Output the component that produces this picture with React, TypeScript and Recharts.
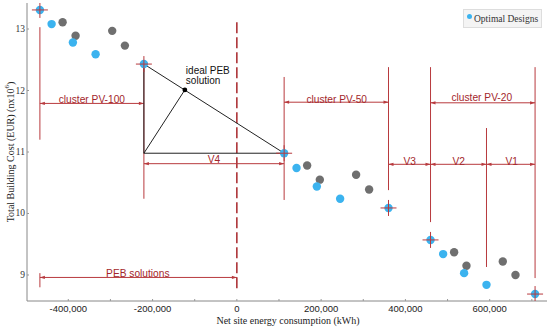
import React from 'react';
import { ScatterChart, Scatter, XAxis, YAxis, ReferenceLine, Legend } from 'recharts';

// optimal designs (blue), boundary designs get a red cross
const optimalX = [-467400, -439600, -389100, -335200, -220600, 112200, 141600, 189800, 245100, 359900, 459600, 489500, 539300, 592400, 707700];
const optimalY = [13.31, 13.08, 12.78, 12.59, 12.43, 10.98, 10.74, 10.44, 10.24, 10.09, 9.57, 9.34, 9.03, 8.84, 8.69];
const optimalEdge = [true, false, false, false, true, true, false, false, false, true, true, false, false, false, true];

// other designs (grey)
const otherX = [-413500, -382700, -295800, -265700, 166800, 196900, 283000, 313900, 515600, 544900, 631100, 661200];
const otherY = [13.11, 12.89, 12.97, 12.73, 10.78, 10.55, 10.63, 10.39, 9.37, 9.15, 9.22, 9.0];

const xTicks = [-400000, -300000, -200000, -100000, 0, 100000, 200000, 300000, 400000, 500000, 600000, 700000];
const yTicks = [9, 10, 11, 12, 13];

// red vertical guides at cluster limits
const guideX = [-467400, -220600, 112200, 359900, 459600, 592400, 707700];
const guideTop = [13.03, 12.43, 12.22, 12.38, 12.38, 11.39, 12.38];
const guideBottom = [11.2, 10.24, 10.22, 10.38, 9.86, 9.13, 8.95];

// arrows with their labels
const spanNames = ['cluster PV-100', 'V4', 'cluster PV-50', 'V3', 'V2', 'V1', 'cluster PV-20', 'PEB solutions'];
const spanFrom = [-467400, -220600, 112200, 359900, 459600, 592400, 459600, -467400];
const spanTo = [-220600, 112200, 359900, 459600, 592400, 707700, 707700, 0];
const spanY = [11.79, 10.81, 11.81, 10.8, 10.8, 10.8, 11.8, 8.96];
const spanLabelX = [-344000, -54500, 237000, 410400, 526700, 652400, 581300, -235000];
const spanLabelY = [11.85, 10.87, 11.86, 10.85, 10.85, 10.85, 11.88, 9.02];

// PEB limit and small tick of the PEB arrow
const pebLimit = { x: 0, top: 13.11, bottom: 8.76 };
const pebStart = { x: -467400, top: 9.03, bottom: 8.8 };

// ideal PEB construction
const idealPoint = { x: -123400, y: 12.01 };
const idealText = ['ideal PEB', 'solution'];
const idealTextX = -121000;
const idealTextY = [12.32, 12.16];
const triA = { x: -220600, y: 12.43 };
const triB = { x: -220600, y: 10.98 };
const triC = { x: 112200, y: 10.98 };

const BLUE = '#3bb3ef';
const GREY = '#6f6f6f';
const RED = '#b83a3e';
const RED_TEXT = '#a3262b';

const optimalData = optimalX.map((x, i) => ({ x, y: optimalY[i], edge: optimalEdge[i] }));
const otherData = otherX.map((x, i) => ({ x, y: otherY[i] }));
const spanLabelData = spanNames.map((name, i) => ({ x: spanLabelX[i], y: spanLabelY[i], name }));
const idealTextData = idealText.map((name, i) => ({ x: idealTextX, y: idealTextY[i], name }));

const ArrowLine = (p: any) => {
  const { x1, y1, x2, y2 } = p;
  const dx = x2 - x1;
  const dy = y2 - y1;
  const len = Math.hypot(dx, dy) || 1;
  const ux = dx / len;
  const uy = dy / len;
  const L = 5;
  const W = 1.6;
  const head = (tx: number, ty: number, sx: number, sy: number) =>
    `${tx},${ty} ${tx - sx * L - sy * W},${ty - sy * L + sx * W} ${tx - sx * L + sy * W},${ty - sy * L - sx * W}`;
  return (
    <g>
      <line x1={x1} y1={y1} x2={x2} y2={y2} stroke={RED} strokeWidth={1} />
      <polygon points={head(x2, y2, ux, uy)} fill={RED} />
      <polygon points={head(x1, y1, -ux, -uy)} fill={RED} />
    </g>
  );
};

const OptimalDot = (p: any) => {
  const { cx, cy, payload } = p;
  return (
    <g>
      <circle cx={cx} cy={cy} r={4.2} fill={BLUE} />
      {payload.edge && (
        <path d={`M${cx - 8},${cy}H${cx + 8}M${cx},${cy - 8}V${cy + 8}`} stroke={RED} strokeWidth={1} />
      )}
    </g>
  );
};

const OtherDot = (p: any) => <circle cx={p.cx} cy={p.cy} r={4.2} fill={GREY} />;

const SpanLabel = (p: any) => (
  <text x={p.cx} y={p.cy} textAnchor="middle" dominantBaseline="central" fill={RED_TEXT}
    fontSize={10.2} fontFamily="Liberation Sans, Arial, sans-serif">{p.payload.name}</text>
);

const IdealLabel = (p: any) => (
  <text x={p.cx} y={p.cy} textAnchor="start" dominantBaseline="central" fill="#111"
    fontSize={10} fontFamily="Liberation Sans, Arial, sans-serif">{p.payload.name}</text>
);

const IdealDot = (p: any) => <circle cx={p.cx} cy={p.cy} r={2.4} fill="#000" />;

const XTick = (p: any) => {
  const { x, y, payload } = p;
  const major = Math.abs(payload.value) % 200000 === 0;
  return (
    <g>
      <line x1={x} y1={y} x2={x} y2={y - 2} stroke="#999" />
      {major && (
        <text x={x} y={y + 7.5} textAnchor="middle" dominantBaseline="central" fill="#222"
          fontSize={9.5} fontFamily="Liberation Sans, Arial, sans-serif">
          {payload.value.toLocaleString('en-US')}
        </text>
      )}
    </g>
  );
};

const YTick = (p: any) => {
  const { x, y, payload } = p;
  return (
    <g>
      <line x1={x} y1={y} x2={x + 2} y2={y} stroke="#999" />
      <text x={x - 2} y={y} textAnchor="end" dominantBaseline="central" fill="#333"
        fontSize={9.5} fontFamily="Liberation Serif, Times New Roman, serif">{payload.value}</text>
    </g>
  );
};

const YLabel = (p: any) => {
  const { x, y, height } = p.viewBox;
  return (
    <text transform={`translate(${x + 10},${y + height / 2}) rotate(-90)`} textAnchor="middle"
      dominantBaseline="central" fill="#222" fontSize={10} fontFamily="Liberation Serif, Times New Roman, serif">
      Total Building Cost (EUR) (nx10<tspan dy={-3} fontSize={7}>6</tspan><tspan dy={3}>)</tspan>
    </text>
  );
};

const XLabel = (p: any) => {
  const { x, y, width } = p.viewBox;
  return (
    <text x={x + width / 2 + 1} y={y + 19.5} textAnchor="middle" dominantBaseline="central" fill="#222"
      fontSize={10} fontFamily="Liberation Serif, Times New Roman, serif">
      Net site energy consumption (kWh)
    </text>
  );
};

const LegendBox = () => (
  <div style={{
    width: 77, height: 17, background: '#f4f4f4', border: '1px solid #ddd', display: 'flex',
    alignItems: 'center', fontFamily: 'Liberation Serif, Times New Roman, serif', fontSize: 9.5, color: '#333',
  }}>
    <span style={{ width: 5, height: 5, borderRadius: '50%', background: BLUE, margin: '0 2px 4px 3px', display: 'inline-block' }} />
    Optimal Designs
  </div>
);

const App = () => {
  return (
    <div style={{ position: 'absolute', left: 0, top: 0, background: '#fff' }}>
      <ScatterChart width={550} height={328} margin={{ top: 3, right: 3, bottom: 0, left: 0 }}>
        <XAxis dataKey="x" type="number" domain={[-498000, 736000]} ticks={xTicks} allowDataOverflow interval={0}
          height={27} tickSize={0} tickMargin={0} tickLine={false} stroke="#888" tick={<XTick />}
          label={<XLabel />} />
        <YAxis dataKey="y" type="number" domain={[8.577, 13.423]} ticks={yTicks} allowDataOverflow interval={0}
          width={27} tickSize={0} tickMargin={0} tickLine={false} stroke="#888" tick={<YTick />}
          label={<YLabel />} />
        <Legend layout="vertical" align="center" verticalAlign="middle"
          wrapperStyle={{ top: 9, left: 463, width: 79, height: 19 }} content={() => <LegendBox />} />

        {guideX.map((x, i) => (
          <ReferenceLine key={'g' + i} segment={[{ x, y: guideTop[i] }, { x, y: guideBottom[i] }]}
            stroke={RED} strokeWidth={1} />
        ))}
        <ReferenceLine segment={[{ x: pebStart.x, y: pebStart.top }, { x: pebStart.x, y: pebStart.bottom }]}
          stroke={RED} strokeWidth={1} />
        <ReferenceLine segment={[{ x: pebLimit.x, y: pebLimit.top }, { x: pebLimit.x, y: pebLimit.bottom }]}
          stroke="#a8262b" strokeWidth={1.5} strokeDasharray="11 4" />
        {spanNames.map((n, i) => (
          <ReferenceLine key={'s' + i} segment={[{ x: spanFrom[i], y: spanY[i] }, { x: spanTo[i], y: spanY[i] }]}
            shape={ArrowLine} />
        ))}

        <ReferenceLine segment={[triA, triB]} stroke="#222" strokeWidth={1} />
        <ReferenceLine segment={[triB, triC]} stroke="#222" strokeWidth={1} />
        <ReferenceLine segment={[triA, triC]} stroke="#222" strokeWidth={1} />
        <ReferenceLine segment={[triB, idealPoint]} stroke="#222" strokeWidth={1} />

        <Scatter name="Other designs" data={otherData} fill={GREY} shape={OtherDot} legendType="none" isAnimationActive={false} />
        <Scatter name="Optimal Designs" data={optimalData} fill={BLUE} shape={OptimalDot} isAnimationActive={false} />
        <Scatter name="ideal" data={[idealPoint]} shape={IdealDot} legendType="none" isAnimationActive={false} />
        <Scatter name="ideal text" data={idealTextData} shape={IdealLabel} legendType="none" isAnimationActive={false} />
        <Scatter name="span labels" data={spanLabelData} shape={SpanLabel} legendType="none" isAnimationActive={false} />
      </ScatterChart>
    </div>
  );
};

export default App;
